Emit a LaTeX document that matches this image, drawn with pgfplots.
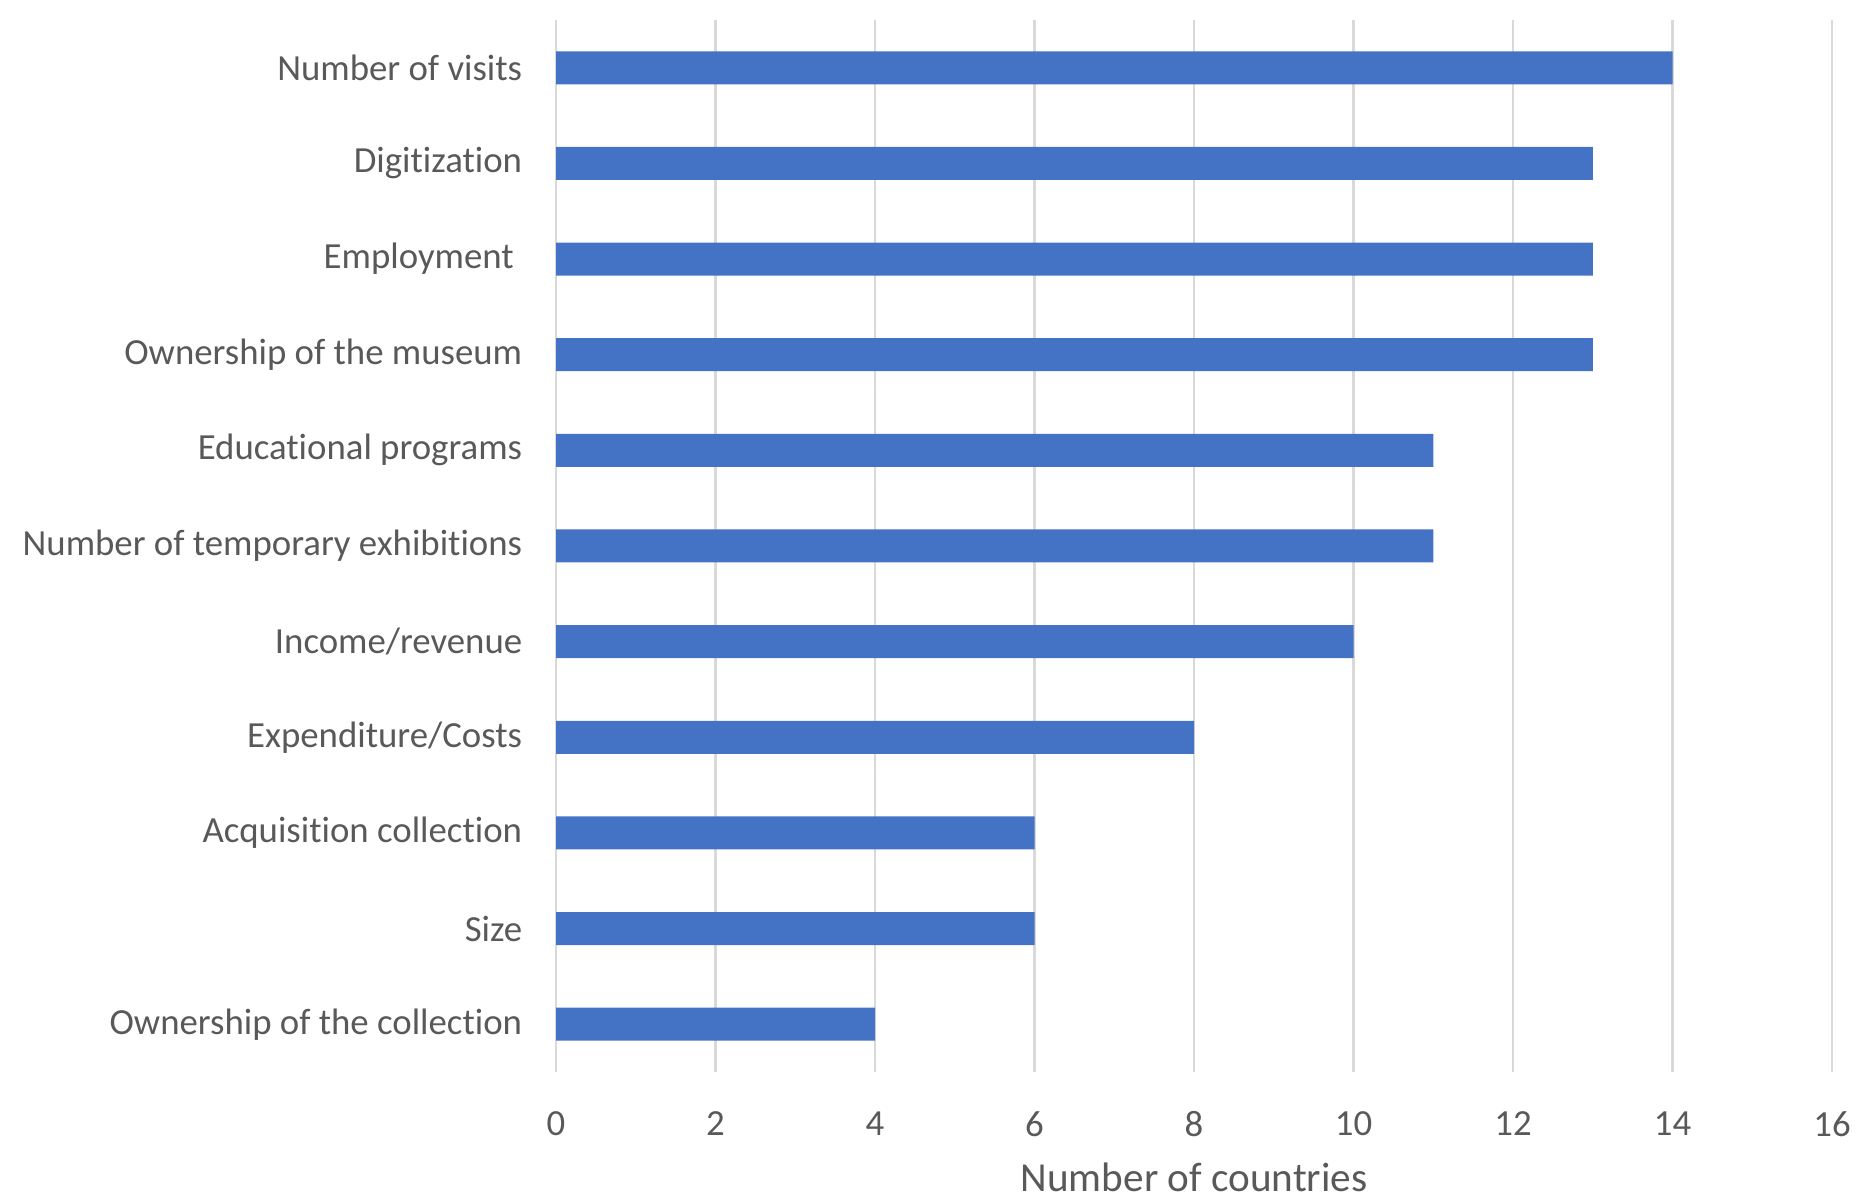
\documentclass[border=0pt]{standalone}
\usepackage{pgfplots}
\pgfplotsset{compat=1.18}
\usepackage{fontspec}
\setmainfont{Carlito}[Ligatures=NoCommon]
\definecolor{barblue}{HTML}{4472C4}
\definecolor{gridgray}{HTML}{D9D9D9}
\definecolor{txtgray}{HTML}{595959}
\begin{document}
\begin{tikzpicture}
\useasboundingbox (0,0) rectangle (464.5pt,299.75pt);
\begin{axis}[
  at={(139pt,31.75pt)}, anchor=south west,
  scale only axis, width=319pt, height=263pt,
  xbar, bar width=8.25pt,
  xmin=0, xmax=16, xtick={0,2,...,16},
  ymin=-0.5, ymax=10.5, ytick={0,...,10},
  yticklabels={Ownership of the collection, Size, Acquisition collection, Expenditure/Costs, Income/revenue, Number of temporary exhibitions, Educational programs, Ownership of the museum, Employment\kern2.1pt, Digitization, Number of visits},
  xmajorgrids, grid style={color=gridgray, line width=0.6pt},
  axis line style={draw=none}, tick style={draw=none},
  /pgf/number format/assume math mode=true,
  font=\fontsize{9.2pt}{11pt}\selectfont,
  ticklabel style={text=txtgray, font=\fontsize{9.2pt}{11pt}\selectfont},
  yticklabel style={anchor=east, inner sep=0pt, xshift=-4pt},
  xticklabel style={anchor=center, inner sep=0pt, yshift=-13pt},
  xlabel={Number of countries},
  xlabel style={at={(axis description cs:0.5,0)}, anchor=center, inner sep=0pt, yshift=-26.3pt, text=txtgray, font=\fontsize{10.3pt}{12pt}\selectfont},
]
\addplot[fill=barblue, draw=none] coordinates {
(4,0) (6,1) (6,2) (8,3) (10,4) (11,5) (11,6) (13,7) (13,8) (13,9) (14,10)
};
\end{axis}
\end{tikzpicture}
\end{document}
